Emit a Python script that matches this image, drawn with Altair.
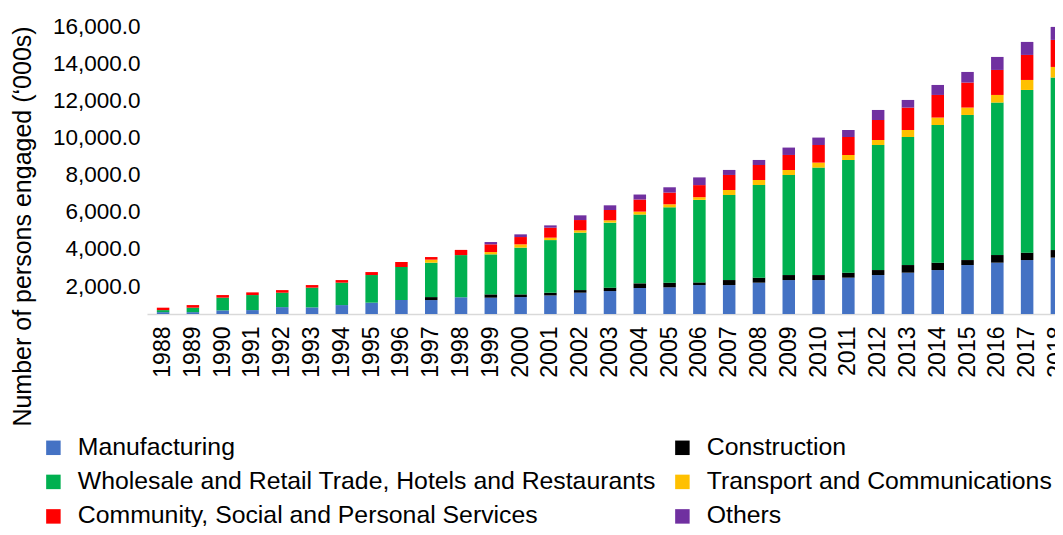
import altair as alt
import pandas as pd

years = ["1988", "1989", "1990", "1991", "1992", "1993", "1994", "1995", "1996", "1997",
         "1998", "1999", "2000", "2001", "2002", "2003", "2004", "2005", "2006", "2007",
         "2008", "2009", "2010", "2011", "2012", "2013", "2014", "2015", "2016", "2017", "2018"]

# stacking order, bottom to top
categories = [
    "Manufacturing",
    "Construction",
    "Wholesale and Retail Trade, Hotels and Restaurants",
    "Transport and Communications",
    "Community, Social and Personal Services",
    "Others",
]
colors = ["#4472C4", "#000000", "#00B050", "#FFC000", "#FF0000", "#7030A0"]

# legend order (filled column by column)
legend_order = [
    "Manufacturing",
    "Wholesale and Retail Trade, Hotels and Restaurants",
    "Community, Social and Personal Services",
    "Construction",
    "Transport and Communications",
    "Others",
]

manufacturing = [600, 600, 695, 711, 870, 856, 980, 1110, 1250, 1250, 1400, 1379, 1411, 1500, 1648, 1734,
                 1900, 1935, 2057, 2057, 2186, 2326, 2326, 2456, 2596, 2725, 2865, 3134, 3263, 3403, 3533]
construction = [0, 0, 0, 0, 0, 0, 0, 0, 0, 160, 0, 177, 145, 146, 140, 183,
                250, 250, 145, 270, 270, 270, 270, 269, 269, 409, 398, 269, 410, 399, 409]
wholesale = [110, 240, 684, 808, 776, 1061, 1206, 1487, 1777, 1850, 2270, 2154, 2515, 2832, 3091, 3500,
             3700, 4055, 4440, 4578, 4986, 5385, 5783, 6064, 6731, 6893, 7410, 7809, 8206, 8756, 9284]
transport = [0, 0, 0, 0, 0, 0, 0, 0, 0, 165, 0, 124, 178, 130, 124, 124,
             160, 165, 145, 270, 270, 270, 269, 269, 269, 377, 399, 398, 410, 538, 570]
community = [130, 140, 140, 145, 140, 140, 140, 160, 270, 140, 280, 415, 393, 538, 554, 555,
             650, 630, 650, 808, 808, 808, 948, 969, 1077, 1206, 1217, 1346, 1346, 1347, 1455]
others = [0, 0, 0, 0, 0, 0, 0, 0, 0, 0, 0, 124, 145, 124, 253, 253,
          270, 285, 415, 270, 270, 398, 399, 377, 539, 410, 538, 571, 700, 700, 700]

y_ticks = [2000, 4000, 6000, 8000, 10000, 12000, 14000, 16000]

series = [manufacturing, construction, wholesale, transport, community, others]
rows = []
for ci, (cat, vals) in enumerate(zip(categories, series)):
    for yr, v in zip(years, vals):
        rows.append({"year": yr, "sector": cat, "value": v, "order": ci})
df = pd.DataFrame(rows)

color_of = dict(zip(categories, colors))
legend_colors = [color_of[c] for c in legend_order]

FONT = "Liberation Sans"

chart = alt.Chart(df).mark_bar(clip=True).encode(
    x=alt.X(
        "year:N",
        sort=years,
        scale=alt.Scale(paddingInner=0.58, paddingOuter=0.33, range=[0, 926]),
        axis=alt.Axis(
            title=None,
            labelAngle=270,
            labelFontSize=23,
            labelPadding=12,
            labelColor="#000000",
            ticks=False,
            domainColor="#d9d9d9",
            domainWidth=1.5,
        ),
    ),
    y=alt.Y(
        "value:Q",
        stack="zero",
        scale=alt.Scale(domain=[500, 16000], nice=False, zero=False),
        axis=alt.Axis(
            values=y_ticks,
            format=",.1f",
            labelFontSize=22.5,
            labelColor="#000000",
            labelPadding=7,
            domain=False,
            ticks=False,
            grid=False,
            title="Number of persons engaged (\u2018000s)",
            titleFontSize=25,
            titleFontWeight="normal",
            titleColor="#000000",
            titleAngle=270,
            titleAlign="center",
            titleBaseline="alphabetic",
            titleX=-117,
            titleY=200,
        ),
    ),
    color=alt.Color(
        "sector:N",
        scale=alt.Scale(domain=legend_order, range=legend_colors),
        legend=alt.Legend(
            title=None,
            orient="none",
            legendX=-106,
            legendY=409,
            columns=2,
            symbolType="square",
            symbolSize=210,
            symbolStrokeWidth=0,
            labelFontSize=24.8,
            labelColor="#000000",
            labelLimit=0,
            labelOffset=12,
            rowPadding=8.5,
            columnPadding=14,
            padding=0,
        ),
    ),
    order=alt.Order("order:Q", sort="ascending"),
).properties(
    width=908,
    height=288,
    padding={"left": 139, "top": 18, "right": 0, "bottom": 213},
    autosize=alt.AutoSizeParams(type="none"),
).configure(font=FONT).configure_view(strokeWidth=0)

chart.save("out.html", embed_options={"renderer": "svg", "actions": False})
